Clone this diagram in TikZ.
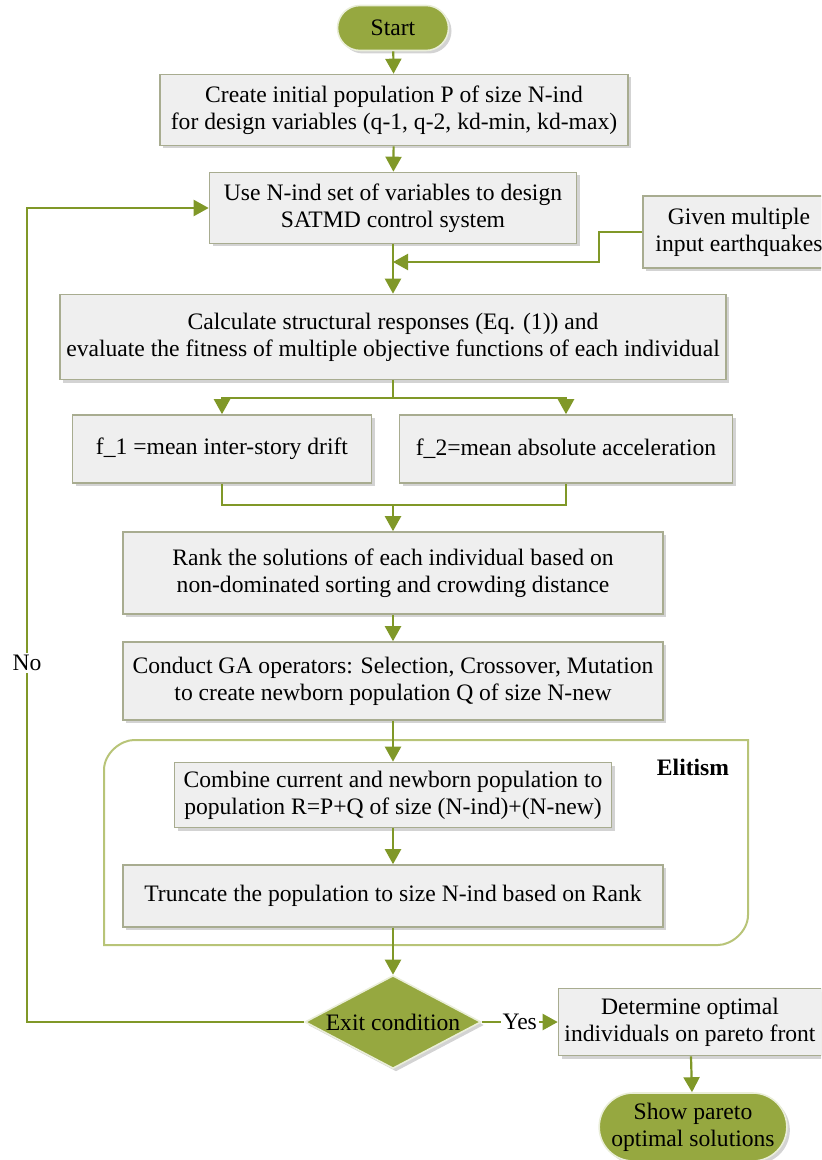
\documentclass[tikz,border=0pt]{standalone}
\usepackage{fontspec}
\setmainfont{Liberation Serif}
\usetikzlibrary{shapes.geometric,shapes.misc,shadows,arrows.meta}
\definecolor{flowgreen}{RGB}{128,152,40}
\definecolor{termgreen}{RGB}{150,168,64}
\definecolor{boxfill}{RGB}{239,239,239}
\definecolor{boxline}{RGB}{168,172,144}
\definecolor{framegreen}{RGB}{184,196,120}
\begin{document}
\begin{tikzpicture}[x = 0.5pt, y = -0.5pt,
	font = \fontsize{11.8}{13.6}\selectfont,
	proc/.style = {rectangle, draw = boxline, line width = 0.8pt, fill = boxfill, align = center, inner sep = 1pt,
		drop shadow = {shadow xshift = 1.5pt, shadow yshift = -1.5pt, opacity = 0.35}},
	term/.style = {rounded rectangle, draw = white!80!termgreen, line width = 0.8pt, fill = termgreen, align = center, inner sep = 1pt,
		drop shadow = {shadow xshift = 1.5pt, shadow yshift = -1.5pt, opacity = 0.35}},
	decide/.style = {diamond, draw = white!80!termgreen, line width = 0.8pt, fill = termgreen, inner sep = 0pt,
		drop shadow = {shadow xshift = 1.5pt, shadow yshift = -1.5pt, opacity = 0.35}},
	link/.style = {draw = flowgreen, line width = 1.1pt},
	flow/.style = {link, -{Triangle[width = 8pt, length = 7.5pt]}}]
	\useasboundingbox (0,0) rectangle (821,1160);
	\clip (0,0) rectangle (821,1160);
	% elitism frame
	\draw [draw = framegreen, line width = 1pt] (104,945) -- (104,770) .. controls (104,753.4) and (120.6,740) .. (134,740) -- (748,740) -- (748,915) .. controls (748,931.6) and (731.4,945) .. (718,945) -- cycle;
	\node [font = \fontsize{11.8}{13.6}\selectfont\bfseries] (elit) at (693,767) {Elitism};
	% nodes
	\node [term, minimum width = 57.5pt, minimum height = 22.5pt] (start) at (393,28) {Start};
	\node [proc, minimum width = 234pt, minimum height = 35.5pt] (init) at (394,110) {Create initial population P of size N-ind\\for design variables (q-1, q-2, kd-min, kd-max)};
	\node [proc, minimum width = 183.5pt, minimum height = 35.5pt] (design) at (393,208) {Use N-ind set of variables to design\\SATMD control system};
	\node [proc, minimum width = 96pt, minimum height = 36pt] (quake) at (739,232) {Given multiple\\input earthquakes};
	\node [proc, minimum width = 333pt, minimum height = 42.5pt] (resp) at (393,337) {Calculate structural responses (Eq. (1)) and\\evaluate the fitness of multiple objective functions of each individual};
	\node [proc, minimum width = 149.5pt, minimum height = 34pt] (fone) at (222,449) {f\_1 =mean inter-story drift};
	\node [proc, minimum width = 166.5pt, minimum height = 34pt] (ftwo) at (566,449) {f\_2=mean absolute acceleration};
	\node [proc, minimum width = 270pt, minimum height = 41pt] (rank) at (393,573) {Rank the solutions of each individual based on\\non-dominated sorting and crowding distance};
	\node [proc, minimum width = 270pt, minimum height = 39pt] (ga) at (393,681) {Conduct GA operators: Selection, Crossover, Mutation\\to create newborn population Q of size N-new};
	\node [proc, minimum width = 218.5pt, minimum height = 32.5pt] (comb) at (393,795) {Combine current and newborn population to\\population R=P+Q of size (N-ind)+(N-new)};
	\node [proc, minimum width = 270pt, minimum height = 31pt] (trunc) at (393,896) {Truncate the population to size N-ind based on Rank};
	\node [decide, minimum width = 88pt, minimum height = 46.5pt, label = center:Exit condition] (exit) at (393,1022) {};
	\node [proc, minimum width = 131.5pt, minimum height = 33.5pt] (pareto) at (690,1022) {Determine optimal\\individuals on pareto front};
	\node [term, minimum width = 90pt, minimum height = 34pt] (show) at (693,1127) {Show pareto\\optimal solutions};
	% connectors
	\draw [flow] (start) -- (init);
	\draw [flow] (init) -- (design);
	\draw [flow] (design) -- (resp);
	\coordinate (mq) at (393,262);
	\draw [flow] (quake.west) -- ++(-43,0) |- (mq);
	\draw [link] (resp.south) -- ++(0,18) coordinate (fork);
	\draw [flow] (fork) -| (fone.north);
	\draw [flow] (fork) -| (ftwo.north);
	\coordinate (join) at (393,505);
	\draw [link] (fone.south) |- (join) -| (ftwo.south);
	\draw [flow] (join) -- (rank);
	\draw [flow] (rank) -- (ga);
	\draw [flow] (ga) -- (comb);
	\draw [flow] (comb) -- (trunc);
	\draw [flow] (trunc) -- (exit);
	\coordinate (loop) at (27,1022);
	\draw [flow] (exit.west) -- (loop) |- (design.west);
	\node [fill = white, inner sep = 1pt] (no) at (27,663) {No};
	\draw [flow] (exit.east) -- (pareto.west) node [midway, fill = white, inner sep = 1pt] (yes) {Yes};
	\draw [flow] (pareto) -- (show);
\end{tikzpicture}
\end{document}
